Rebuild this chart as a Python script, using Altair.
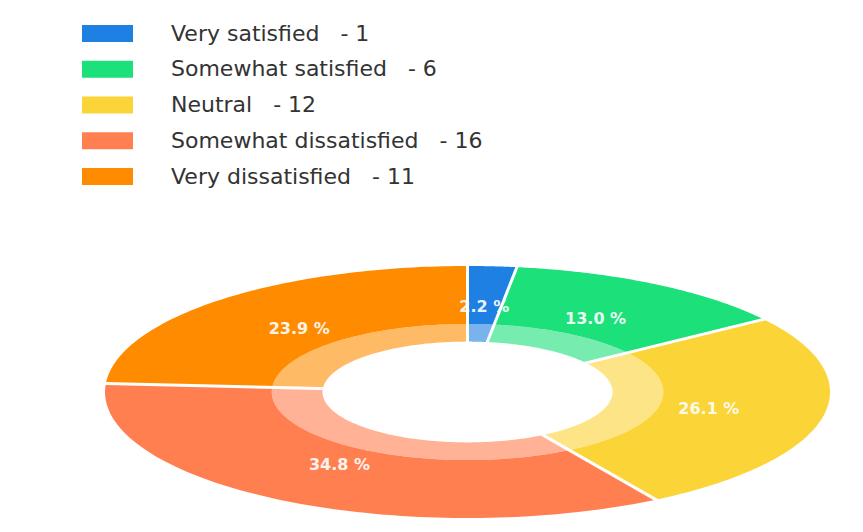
import altair as alt
import pandas as pd

# ---- data ----
categories = ["Very satisfied", "Somewhat satisfied", "Neutral",
              "Somewhat dissatisfied", "Very dissatisfied"]
counts = [1, 6, 12, 16, 11]
colors = ["#1E80E3", "#1CE07A", "#FBD437", "#FF7F50", "#FF8C00"]

N = 90  # points per arc edge (helper index only)

legend_labels = [f"{c}\u00a0\u00a0 - {n}" for c, n in zip(categories, counts)]
df = pd.DataFrame({
    "category": categories,
    "count": counts,
    "order": list(range(len(categories))),
    "legend": legend_labels,
})
df["steps"] = [list(range(2 * N + 2)) for _ in categories]
df["ends"] = [[0, 1] for _ in categories]

xs = alt.Scale(domain=[-1.2897, 1.0910], nice=False, zero=False)
ys = alt.Scale(domain=[-1.1111, 3.1111], nice=False, zero=False)

base = alt.Chart(df).transform_joinaggregate(
    total="sum(count)"
).transform_window(
    cum="sum(count)", sort=[alt.SortField("order")], frame=[None, 0]
).transform_calculate(
    start="(datum.cum - datum.count) / datum.total",
    end="datum.cum / datum.total",
)

color_scale = alt.Scale(domain=legend_labels, range=colors)

legend = alt.Legend(
    orient="none", legendX=82, legendY=20.5, title=None,
    symbolType="M-1,-0.3333H1V0.3333H-1Z", symbolSize=2601,
    symbolStrokeWidth=0, symbolOpacity=1,
    clipHeight=26, rowPadding=9.75, labelOffset=38,
    labelFontSize=22, labelFont="DejaVu Sans", labelColor="#333333",
    labelLimit=800, padding=0,
)


def ring(r_in, r_out, opacity, show_legend):
    return base.transform_flatten(["steps"]).transform_calculate(
        t=f"datum.steps <= {N} ? datum.steps / {N} : ({2 * N + 1} - datum.steps) / {N}",
        r=f"datum.steps <= {N} ? {r_out} : {r_in}",
    ).transform_calculate(
        ang="2 * PI * (datum.start + (datum.end - datum.start) * datum.t)"
    ).transform_calculate(
        px="datum.r * sin(datum.ang)",
        py="datum.r * cos(datum.ang)",
    ).mark_line(filled=True, interpolate="linear", opacity=opacity).encode(
        x=alt.X("px:Q", scale=xs, axis=None),
        y=alt.Y("py:Q", scale=ys, axis=None),
        order=alt.Order("steps:Q"),
        color=alt.Color("legend:N", scale=color_scale,
                        legend=legend if show_legend else None),
    )


outer = ring(0.54, 1.0, 1.0, True)
inner = ring(0.40, 0.54, 0.6, False)

separators = base.transform_flatten(["ends"]).transform_calculate(
    r="datum.ends == 0 ? 0.38 : 1.03",
    ang="2 * PI * datum.start",
).transform_calculate(
    px="datum.r * sin(datum.ang)",
    py="datum.r * cos(datum.ang)",
).mark_line(color="white", strokeWidth=3).encode(
    x=alt.X("px:Q", scale=xs, axis=None),
    y=alt.Y("py:Q", scale=ys, axis=None),
    detail="category:N",
    order=alt.Order("ends:Q"),
)

labels = base.transform_calculate(
    ang="2 * PI * (datum.start + datum.end) / 2",
    label="format(datum.count / datum.total * 100, '.1f') + ' %'",
).transform_calculate(
    px="0.68 * sin(datum.ang)",
    py="0.68 * cos(datum.ang)",
).mark_text(color="white", fontSize=16, fontWeight="bold",
            font="DejaVu Sans", opacity=0.9).encode(
    x=alt.X("px:Q", scale=xs, axis=None),
    y=alt.Y("py:Q", scale=ys, axis=None),
    text="label:N",
)

chart = alt.layer(outer, inner, separators, labels).properties(
    width=863, height=532, padding=0,
    autosize=alt.AutoSizeParams(type="none"),
).configure_view(stroke=None)

chart.save("out.html", embed_options={"renderer": "svg", "actions": False})
